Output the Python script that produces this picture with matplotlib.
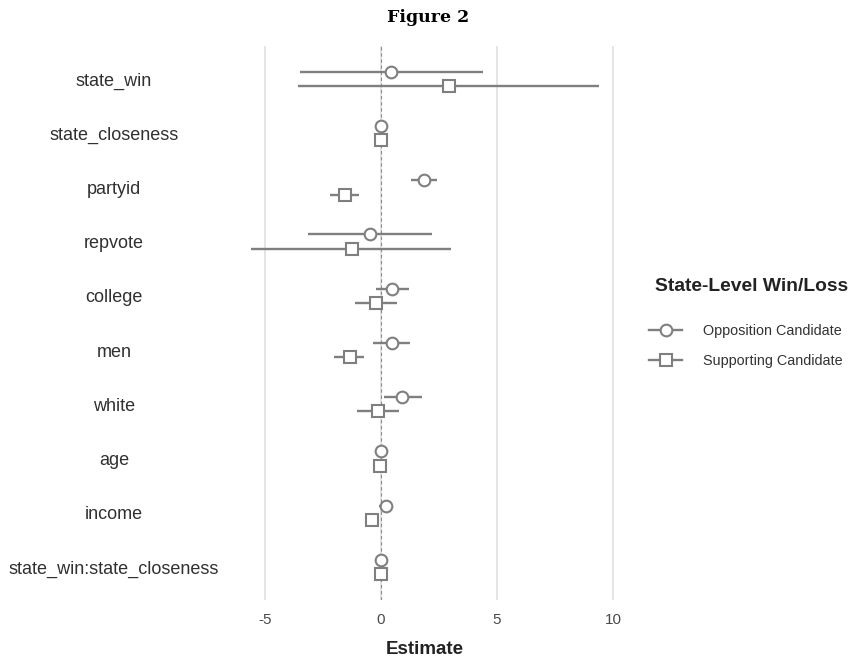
import numpy as np
import matplotlib.pyplot as plt
from matplotlib.lines import Line2D

plt.rcParams['font.family'] = ['Liberation Sans', 'DejaVu Sans']

# coefficientes
terms = ["state_win", "state_closeness", "partyid", "repvote", "college",
	"men", "white", "age", "income", "state_win:state_closeness"]

opp_est = [0.43, 0.0, 1.85, -0.47, 0.49, 0.46, 0.90, 0.0, 0.21, 0.0]
opp_low = [-3.49, -0.05, 1.29, -3.13, -0.23, -0.36, 0.13, -0.05, -0.10, -0.03]
opp_high = [4.38, 0.05, 2.40, 2.21, 1.19, 1.26, 1.75, 0.05, 0.50, 0.03]

sup_est = [2.93, 0.0, -1.55, -1.25, -0.20, -1.35, -0.13, -0.05, -0.37, 0.0]
sup_low = [-3.58, -0.05, -2.21, -5.60, -1.12, -2.01, -1.03, -0.10, -0.60, -0.05]
sup_high = [9.41, 0.05, -0.93, 3.02, 0.70, -0.73, 0.78, 0.0, -0.13, 0.05]

series_names = ["Opposition Candidate", "Supporting Candidate"]
xticks = [-5, 0, 5, 10]

gray = "#7f7f7f"
dodge = 0.132

fig = plt.figure(figsize=(8.52, 6.62), dpi=100)
ax = fig.add_axes([0.274, 0.0944, 0.450, 0.8356])

ypos = np.arange(len(terms))

for x in xticks:
	ax.axvline(x, color="#e3e3e3", lw=1.3, zorder=0)
ax.axvline(0, color="#8a8a8a", lw=0.8, ls=(0, (3, 2.5)), zorder=1)

def draw(est, low, high, offset, marker, msize):
	est = np.array(est)
	for y, lo, hi in zip(ypos + offset, low, high):
		ax.plot([lo, hi], [y, y], color=gray, lw=1.7, solid_capstyle="butt", zorder=2)
	ax.plot(est, ypos + offset, ls="none", marker=marker, ms=msize, mfc="white",
		mec=gray, mew=1.5, zorder=3)

draw(opp_est, opp_low, opp_high, -dodge, "o", 8.4)
draw(sup_est, sup_low, sup_high, dodge, "s", 8.0)

lo_all = min(min(opp_low), min(sup_low))
hi_all = max(max(opp_high), max(sup_high))
span = hi_all - lo_all
ax.set_xlim(lo_all - 0.05 * span, hi_all + 0.05 * span)
ax.set_ylim(len(terms) - 0.4, -0.6)

ax.set_yticks(ypos)
ax.set_yticklabels(terms, fontsize=13, color="#303030")
for lbl in ax.get_yticklabels():
	lbl.set_ha("center")
ax.tick_params(axis="y", length=0, pad=86)

ax.set_xticks(xticks)
ax.set_xticklabels([str(t) for t in xticks], fontsize=11, color="#4a4a4a")
ax.tick_params(axis="x", length=0, pad=10)
ax.set_xlabel("Estimate", fontsize=13.5, fontweight="bold", color="#222222", labelpad=10)

for s in ax.spines.values():
	s.set_visible(False)

fig.text(0.502, 0.973, "Figure 2", ha="center", va="center", fontsize=12.5,
	fontweight="bold", family="DejaVu Serif")

fig.text(655 / 852, 1 - 286 / 662, "State-Level Win/Loss", ha="left", va="center",
	fontsize=13.9, fontweight="bold", color="#222222")

handles = [
	Line2D([], [], color=gray, lw=1.7, marker="o", ms=8.4, mfc="white", mec=gray, mew=1.5),
	Line2D([], [], color=gray, lw=1.7, marker="s", ms=8.0, mfc="white", mec=gray, mew=1.5),
]
fig.legend(handles, series_names, loc="center left", bbox_to_anchor=(649 / 852, 1 - 346.3 / 662),
	frameon=False, fontsize=10.4, handlelength=2.3, handletextpad=1.45, labelspacing=1.1,
	borderpad=0, borderaxespad=0, labelcolor="#333333")

plt.savefig("out.png", dpi=100)
